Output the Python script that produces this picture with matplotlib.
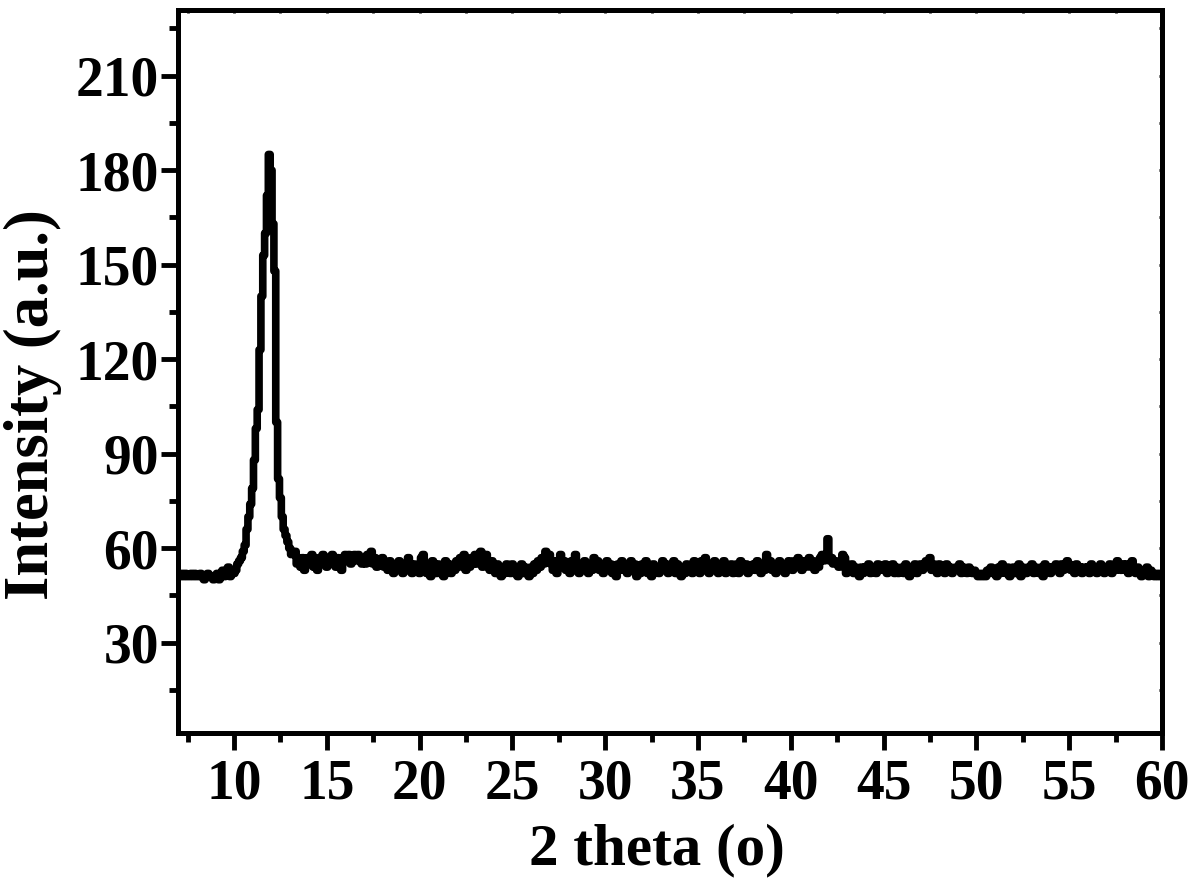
import numpy as np
import matplotlib
matplotlib.use('Agg')
import matplotlib.pyplot as plt
from matplotlib.ticker import MultipleLocator

plt.rcParams['font.family'] = ['Liberation Serif', 'DejaVu Serif']
plt.rcParams['font.weight'] = 'bold'

# 2 theta sampled every 0.1 degree from 7.0 to 60.0
theta_start = 7.0
theta_step = 0.1

# 7.0 - 9.9
pre_peak = [52, 51, 52, 51, 52, 51, 51, 52, 51, 52,
            51, 51, 52, 51, 50, 51, 52, 51, 51, 50,
            51, 52, 50, 51, 53, 51, 52, 54, 51, 53]

# 10.0 - 13.9
peak = [52, 53, 55, 56, 57, 59, 61, 66, 70, 74,
        79, 88, 98, 104, 123, 140, 153, 160, 172, 185,
        180, 163, 148, 100, 82, 76, 70, 66, 64, 62,
        60, 58, 58, 59, 55, 57, 54, 57, 53, 56]

# 14.0 - 29.9
baseline_a = [57, 55, 58, 54, 56, 53, 57, 55, 58, 56,
              54, 57, 55, 58, 56, 54, 57, 55, 53, 56,
              58, 56, 58, 55, 57, 58, 56, 58, 57, 55,
              57, 55, 58, 56, 59, 55, 57, 54, 56, 55,
              57, 54, 55, 53, 56, 54, 52, 55, 53, 56,
              54, 52, 55, 53, 57, 54, 52, 55, 53, 54,
              52, 57, 58, 55, 52, 54, 51, 56, 53, 52,
              55, 52, 54, 51, 56, 53, 55, 52, 54, 53,
              56, 54, 57, 55, 58, 53, 56, 54, 57, 55,
              58, 55, 57, 59, 54, 56, 58, 55, 53, 56,
              54, 52, 55, 53, 51, 54, 52, 55, 53, 52,
              55, 52, 54, 51, 53, 55, 52, 54, 53, 51,
              54, 52, 55, 53, 56, 54, 57, 55, 59, 56,
              58, 55, 53, 56, 52, 55, 58, 54, 56, 53,
              55, 52, 56, 53, 58, 54, 52, 55, 53, 56,
              54, 52, 55, 53, 57, 54, 56, 53, 55, 52]

# 30.0 - 44.9
baseline_b = [54, 56, 53, 55, 52, 54, 51, 55, 53, 56,
              53, 55, 52, 54, 56, 53, 55, 51, 54, 52,
              55, 53, 56, 52, 54, 51, 55, 53, 54, 52,
              54, 56, 53, 55, 52, 54, 53, 56, 52, 55,
              53, 51, 54, 52, 55, 53, 54, 52, 56, 53,
              55, 52, 56, 53, 57, 54, 52, 55, 53, 56,
              54, 52, 55, 53, 56, 52, 54, 53, 55, 52,
              53, 55, 52, 56, 54, 53, 55, 52, 54, 53,
              55, 53, 56, 54, 52, 55, 53, 58, 54, 56,
              53, 55, 52, 54, 56, 53, 55, 52, 54, 56,
              55, 53, 56, 54, 57, 55, 53, 56, 54, 55,
              57, 54, 56, 53, 55, 54, 57, 58, 56, 57,
              63, 56, 57, 55, 56, 55, 54, 56, 58, 57,
              52, 54, 53, 55, 52, 54, 53, 51, 54, 52,
              54, 53, 55, 52, 54, 53, 52, 55, 53, 54]

# 45.0 - 60.0
baseline_c = [53, 55, 52, 54, 53, 55, 52, 54, 52, 53,
              54, 52, 55, 53, 51, 54, 53, 55, 52, 54,
              55, 53, 54, 56, 55, 57, 53, 55, 54, 52,
              55, 53, 54, 52, 55, 53, 54, 52, 53, 54,
              53, 55, 52, 54, 53, 52, 54, 53, 52, 53,
              52, 51, 52, 51, 52, 51, 53, 52, 54, 52,
              53, 51, 54, 52, 55, 53, 52, 54, 51, 53,
              54, 52, 53, 55, 51, 54, 53, 52, 54, 53,
              55, 52, 54, 53, 52, 54, 51, 55, 53, 54,
              52, 54, 53, 55, 54, 52, 55, 53, 54, 56,
              55, 53, 54, 52, 55, 53, 54, 52, 54, 53,
              54, 52, 55, 53, 54, 52, 53, 55, 54, 52,
              54, 53, 55, 52, 54, 53, 56, 54, 53, 55,
              53, 55, 52, 54, 56, 53, 52, 54, 53, 51,
              53, 52, 54, 51, 53, 52, 51, 52, 51, 52,
              51]

intensity = np.array(pre_peak + peak + baseline_a + baseline_b + baseline_c, dtype=float)
two_theta = theta_start + theta_step * np.arange(len(intensity))

fig = plt.figure(figsize=(12, 8.92), dpi=100)
ax = fig.add_axes([0.1486, 0.1788, 0.8197, 0.8105])

ax.plot(two_theta, intensity, color='black', linewidth=5.5, drawstyle='steps-mid',
        solid_joinstyle='round', solid_capstyle='round')

ax.set_xlim(7, 60)
ax.set_ylim(1.5, 231)
ax.xaxis.set_major_locator(MultipleLocator(5))
ax.xaxis.set_minor_locator(MultipleLocator(2.5))
ax.yaxis.set_minor_locator(MultipleLocator(15))
ax.set_yticks([30, 60, 90, 120, 150, 180, 210])

for sp in ax.spines.values():
    sp.set_linewidth(3.6)

ax.tick_params(which='major', direction='out', length=12, width=3.5, labelsize=40, pad=7)
ax.tick_params(which='minor', direction='out', length=6.5, width=3.5)
ax.tick_params(axis='y', which='major', pad=2)

# tiny inward ticks on top and right
top = ax.secondary_xaxis('top')
top.xaxis.set_major_locator(MultipleLocator(5))
top.xaxis.set_minor_locator(MultipleLocator(2.5))
top.tick_params(which='both', direction='in', length=2.5, width=2, labeltop=False)
right = ax.secondary_yaxis('right')
right.yaxis.set_major_locator(MultipleLocator(30))
right.yaxis.set_minor_locator(MultipleLocator(15))
right.tick_params(which='both', direction='in', length=2.5, width=2, labelright=False)
for sec in (top, right):
    for sp in sec.spines.values():
        sp.set_linewidth(3.6)

ax.set_xlabel('2 theta (o)', fontsize=42.5, fontweight='bold')
ax.set_ylabel('Intensity (a.u.)', fontsize=45, fontweight='bold')
ax.xaxis.set_label_coords(0.487, -0.125)
ax.yaxis.set_label_coords(-0.118, 0.453)

fig.savefig('out.png', dpi=100)
